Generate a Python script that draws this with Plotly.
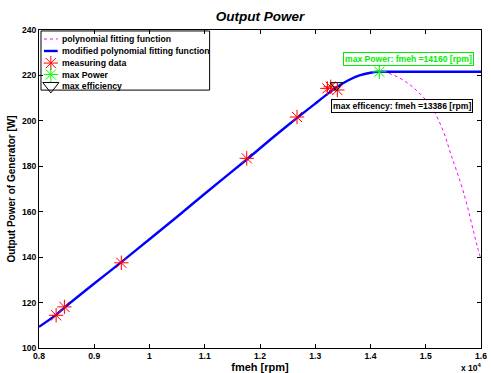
import plotly.graph_objects as go

# measuring data
meas_x = [8310, 8460, 9490, 11760, 12670, 13220, 13280, 13400]
meas_y = [114.4, 118.1, 137.5, 183.5, 201.7, 214.3, 215.0, 213.6]

# modified polynomial fitting function
mod_x = [8000, 8310, 8460, 9000, 9490, 10000, 10500, 11000, 11760, 12200, 12670, 13000, 13300, 13386, 13600, 13800, 14000, 14160, 14500, 15000, 16000]
mod_y = [109.3, 114.6, 117.8, 128.4, 137.8, 147.9, 157.8, 167.9, 183.0, 192.0, 201.3, 207.6, 213.3, 214.8, 217.9, 220.0, 221.2, 221.6, 221.6, 221.6, 221.6]

# polynomial fitting function (dotted, continues past the maximum)
poly_x = [8000, 8460, 9490, 10500, 11760, 12670, 13300, 13800, 14160, 14400, 14680, 14900, 15100, 15300, 15450, 15690, 15930, 16000]
poly_y = [109.3, 117.8, 137.8, 157.8, 183.0, 201.3, 213.3, 220.0, 221.6, 220.3, 216.5, 211.8, 206.2, 196.5, 185.7, 168.0, 145.0, 139.0]

max_power_x = [14160]
max_power_y = [221.6]
max_eff_x = [13386]
max_eff_y = [215.6]

x_tickvals = [8000, 9000, 10000, 11000, 12000, 13000, 14000, 15000, 16000]
x_ticktext = ["0.8", "0.9", "1", "1.1", "1.2", "1.3", "1.4", "1.5", "1.6"]
y_tickvals = [100, 120, 140, 160, 180, 200, 220, 240]

legend_labels = ["polynomial fitting function", "modified polynomial fitting function",
                 "measuring data", "max Power", "max efficiency"]

FONT = "Liberation Sans, Arial, Helvetica, sans-serif"

fig = go.Figure()
fig.add_trace(go.Scatter(x=poly_x, y=poly_y, mode="lines", showlegend=False,
                         line=dict(color="#ff00ff", width=1, dash="dot", shape="spline")))
fig.add_trace(go.Scatter(x=mod_x, y=mod_y, mode="lines", showlegend=False,
                         line=dict(color="#0000ff", width=2.4, shape="spline", smoothing=0.6)))
fig.add_trace(go.Scatter(x=meas_x, y=meas_y, mode="markers", showlegend=False,
                         marker=dict(symbol="asterisk-open", size=12, color="#ff0000",
                                     line=dict(color="#ff0000", width=1))))
fig.add_trace(go.Scatter(x=max_power_x, y=max_power_y, mode="markers", showlegend=False,
                         marker=dict(symbol="asterisk-open", size=12, color="#00ff00",
                                     line=dict(color="#00ff00", width=1))))
fig.add_trace(go.Scatter(x=max_eff_x, y=max_eff_y, mode="markers", showlegend=False,
                         marker=dict(symbol="triangle-down-open", size=11, color="#000000",
                                     line=dict(color="#000000", width=1))))

# ---- legend drawn in the MATLAB style (compact box, top-left) ----
LEG_L, LEG_R, LEG_T, LEG_B = 0.0045, 0.386, 0.997, 0.811
row_y = [0.9717, 0.934, 0.896, 0.860, 0.824]
sym_x0, sym_x1, sym_xc, txt_x = 0.0112, 0.0424, 0.0268, 0.0469

fig.add_shape(type="rect", xref="paper", yref="paper", x0=LEG_L, x1=LEG_R, y0=LEG_B, y1=LEG_T,
              line=dict(color="black", width=1), fillcolor="white", layer="below")
fig.add_shape(type="line", xref="paper", yref="paper", x0=sym_x0, x1=sym_x1, y0=row_y[0], y1=row_y[0],
              line=dict(color="#ff00ff", width=1, dash="dot"), layer="above")
fig.add_shape(type="line", xref="paper", yref="paper", x0=sym_x0, x1=sym_x1, y0=row_y[1], y1=row_y[1],
              line=dict(color="#0000ff", width=2.4), layer="above")
fig.add_trace(go.Scatter(x=[sym_xc, sym_xc], y=[row_y[2], row_y[3]], xaxis="x2", yaxis="y2",
                         mode="markers", showlegend=False, hoverinfo="skip",
                         marker=dict(symbol="asterisk-open", size=12, color=["#ff0000", "#00ff00"],
                                     line=dict(color=["#ff0000", "#00ff00"], width=1))))
fig.add_trace(go.Scatter(x=[sym_xc], y=[row_y[4]], xaxis="x2", yaxis="y2",
                         mode="markers", showlegend=False, hoverinfo="skip",
                         marker=dict(symbol="triangle-down-open", size=14, color="black",
                                     line=dict(color="black", width=1))))
for lbl, ry in zip(legend_labels, row_y):
    fig.add_annotation(x=txt_x, y=ry, xref="paper", yref="paper", text=lbl, showarrow=False,
                       xanchor="left", yanchor="middle",
                       font=dict(family=FONT, size=8.7, color="black", weight="bold"))

# ---- data labels ----
fig.add_annotation(x=14160, y=221.6, xref="x", yref="y", showarrow=False,
                   yshift=13, text="max Power: fmeh =14160 [rpm]",
                   font=dict(family=FONT, size=8.6, color="#00ee00", weight="bold"),
                   bordercolor="#00ee00", borderwidth=1, borderpad=1, bgcolor="white",
                   xanchor="left", xshift=-36)
fig.add_annotation(x=13386, y=215, xref="x", yref="y", showarrow=False,
                   text="max efficency: fmeh =13386 [rpm]",
                   font=dict(family=FONT, size=8.6, color="black", weight="bold"),
                   bordercolor="black", borderwidth=1, borderpad=1, bgcolor="white",
                   xanchor="left", yanchor="top", xshift=-6, yshift=-12)
fig.add_annotation(x=1.0, y=0, xref="paper", yref="paper", showarrow=False,
                   text="x 10<sup>4</sup>", font=dict(family=FONT, size=8.5, color="black", weight="bold"),
                   xanchor="right", yanchor="top", yshift=-12, xshift=3)

axis_common = dict(showline=True, linecolor="black", linewidth=1, mirror="ticks",
                   ticks="inside", ticklen=4, tickcolor="black", showgrid=False, zeroline=False,
                   ticklabeloverflow="allow",
                   tickfont=dict(family=FONT, size=8.6, color="black", weight="bold"))

fig.update_xaxes(range=[8000, 16000], tickvals=x_tickvals, ticktext=x_ticktext,
                 title=dict(text="fmeh [rpm]", standoff=0,
                            font=dict(family=FONT, size=11, color="black", weight="bold")),
                 **axis_common)
fig.update_yaxes(range=[100, 240], tickvals=y_tickvals,
                 title=dict(text="Output Power of Generator [W]", standoff=4,
                            font=dict(family=FONT, size=10, color="black", weight="bold")),
                 **axis_common)

fig.update_layout(
    width=491, height=373,
    margin=dict(l=39, r=4, t=30, b=25),
    paper_bgcolor="white", plot_bgcolor="white",
    title=dict(text="<b><i>Output Power</i></b>", x=0.5, xref="paper", xanchor="center",
               y=1 - 16 / 373, yref="container", yanchor="middle",
               font=dict(family=FONT, size=13.5, color="black")),
    showlegend=False,
    xaxis2=dict(overlaying="x", range=[0, 1], visible=False, fixedrange=True),
    yaxis2=dict(overlaying="y", range=[0, 1], visible=False, fixedrange=True),
)

fig.write_html("out.html", config={"displayModeBar": False},
               post_script="document.body.style.margin='0';")
